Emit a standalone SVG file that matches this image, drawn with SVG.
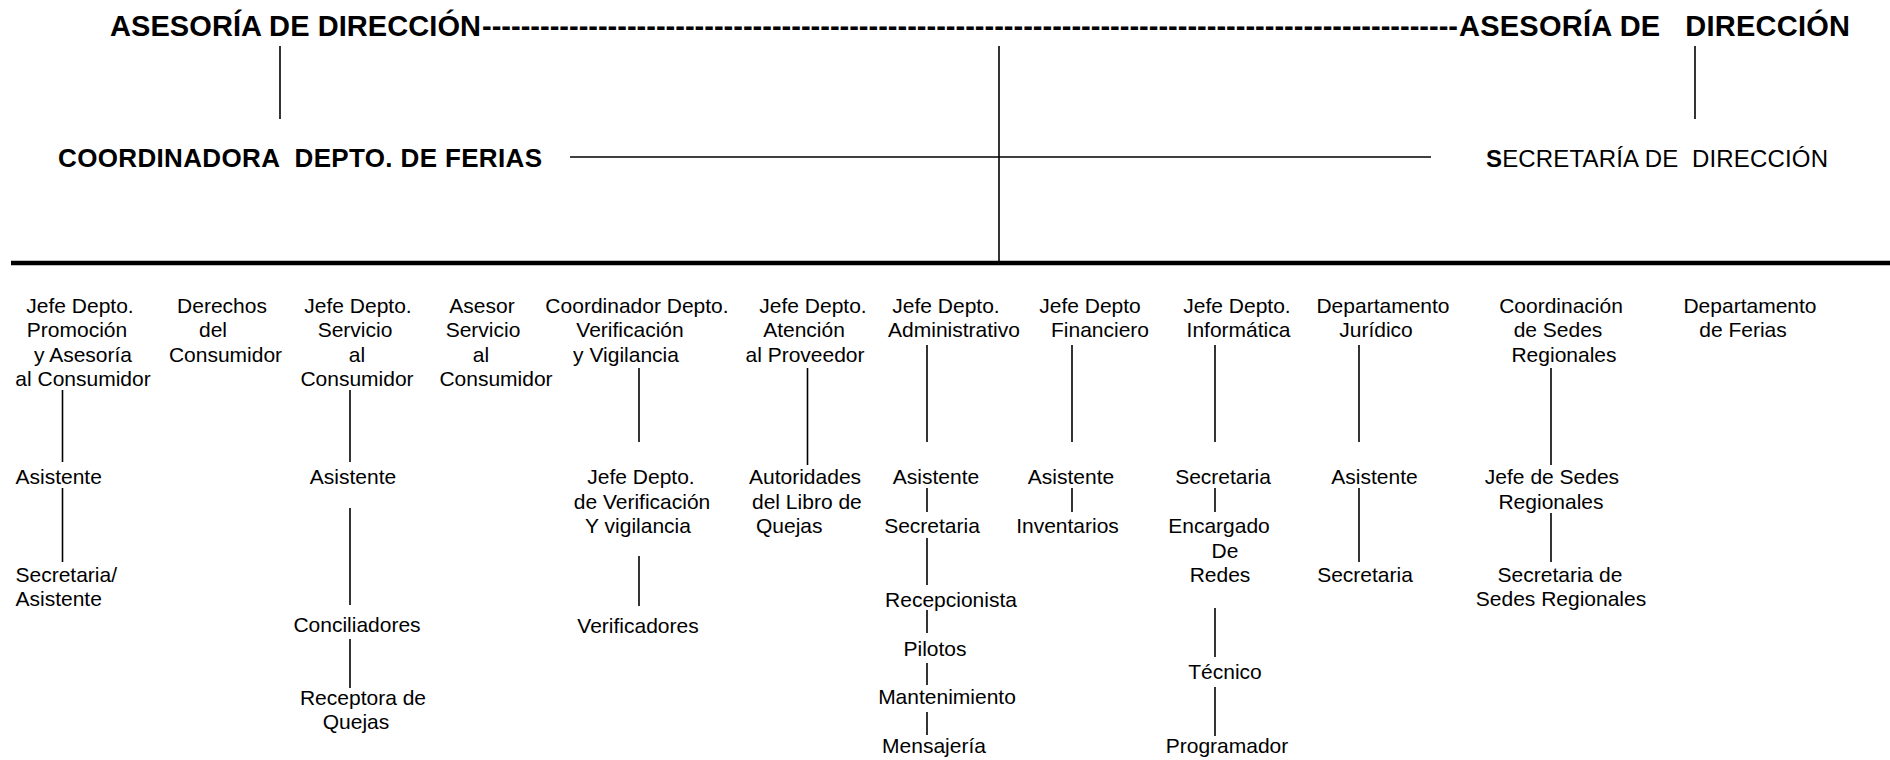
<svg xmlns="http://www.w3.org/2000/svg" width="1890" height="760" viewBox="0 0 1890 760">
<style>
text{font-family:"Liberation Sans",Arial,sans-serif;fill:#000}
.h{font-size:29px;font-weight:bold}
.c{font-size:26px;font-weight:bold}
.s{font-size:24px}
.t{font-size:21px;text-anchor:middle}
.l{font-size:21px}
.ln{stroke:#000;stroke-width:1.6;fill:none}
.thick{stroke:#000;stroke-width:4.5;fill:none}
</style>
<rect width="1890" height="760" fill="#fff"/>
<g id="asesoria-izq"><text class="h" x="110" y="36" textLength="371">ASESORÍA DE DIRECCIÓN</text></g>
<g id="asesoria-dashes"><text class="h" x="482" y="36" textLength="976" lengthAdjust="spacingAndGlyphs">-----------------------------------------------------------------------------------------------------</text></g>
<g id="asesoria-der"><text class="h" x="1459" y="36" xml:space="preserve" textLength="391">ASESORÍA DE   DIRECCIÓN</text></g>
<g id="coordinadora"><text class="c" x="58" y="167" xml:space="preserve" textLength="484">COORDINADORA  DEPTO. DE FERIAS</text></g>
<g id="secretaria-direccion"><text class="s" x="1486" y="167" xml:space="preserve" textLength="342"><tspan font-weight="bold">S</tspan>ECRETARÍA DE  DIRECCIÓN</text></g>

<g id="connectors">
<line class="ln" x1="280" y1="46" x2="280" y2="119"/>
<line class="ln" x1="1695" y1="46" x2="1695" y2="119"/>
<line class="ln" x1="999" y1="46" x2="999" y2="262"/>
<line class="ln" x1="570" y1="157" x2="1431" y2="157"/>
<line class="thick" x1="11" y1="263" x2="1890" y2="263"/>
<line class="ln" x1="62.5" y1="390" x2="62.5" y2="462"/>
<line class="ln" x1="62.5" y1="488" x2="62.5" y2="562"/>
<line class="ln" x1="350" y1="390" x2="350" y2="462"/>
<line class="ln" x1="350" y1="508" x2="350" y2="605"/>
<line class="ln" x1="350" y1="639" x2="350" y2="688"/>
<line class="ln" x1="639" y1="368" x2="639" y2="442"/>
<line class="ln" x1="639" y1="556" x2="639" y2="606"/>
<line class="ln" x1="807.5" y1="368" x2="807.5" y2="465"/>
<line class="ln" x1="927" y1="345" x2="927" y2="442"/>
<line class="ln" x1="927" y1="488" x2="927" y2="512"/>
<line class="ln" x1="927" y1="538" x2="927" y2="585"/>
<line class="ln" x1="927" y1="610" x2="927" y2="633"/>
<line class="ln" x1="927" y1="663" x2="927" y2="685"/>
<line class="ln" x1="927" y1="712" x2="927" y2="735"/>
<line class="ln" x1="1072" y1="345" x2="1072" y2="442"/>
<line class="ln" x1="1072" y1="488" x2="1072" y2="512"/>
<line class="ln" x1="1215" y1="345" x2="1215" y2="442"/>
<line class="ln" x1="1215" y1="488" x2="1215" y2="512"/>
<line class="ln" x1="1215" y1="608" x2="1215" y2="657"/>
<line class="ln" x1="1215" y1="687" x2="1215" y2="736"/>
<line class="ln" x1="1359" y1="345" x2="1359" y2="442"/>
<line class="ln" x1="1359" y1="488" x2="1359" y2="562"/>
<line class="ln" x1="1551" y1="368" x2="1551" y2="465"/>
<line class="ln" x1="1551" y1="513" x2="1551" y2="562"/>
</g>

<g id="jefe-promocion">
<text class="t" x="80" y="313">Jefe Depto.</text>
<text class="t" x="77" y="337">Promoción</text>
<text class="t" x="83" y="362">y Asesoría</text>
<text class="t" x="83" y="386">al Consumidor</text>
</g>
<g id="asistente-promocion"><text class="l" x="15.5" y="484">Asistente</text></g>
<g id="secretaria-asistente">
<text class="l" x="15.5" y="582">Secretaria/</text>
<text class="l" x="15.5" y="606">Asistente</text>
</g>

<g id="derechos-consumidor">
<text class="t" x="222" y="313">Derechos</text>
<text class="t" x="213" y="337">del</text>
<text class="t" x="225.5" y="362">Consumidor</text>
</g>

<g id="jefe-servicio">
<text class="t" x="358" y="313">Jefe Depto.</text>
<text class="t" x="355" y="337">Servicio</text>
<text class="t" x="357" y="362">al</text>
<text class="t" x="357" y="386">Consumidor</text>
</g>
<g id="asistente-servicio"><text class="t" x="353" y="484">Asistente</text></g>
<g id="conciliadores"><text class="t" x="357" y="632">Conciliadores</text></g>
<g id="receptora-quejas">
<text class="t" x="363" y="705">Receptora de</text>
<text class="t" x="356" y="729">Quejas</text>
</g>

<g id="asesor-servicio">
<text class="t" x="482" y="313">Asesor</text>
<text class="t" x="483" y="337">Servicio</text>
<text class="t" x="481" y="362">al</text>
<text class="t" x="496" y="386">Consumidor</text>
</g>

<g id="coordinador-verificacion">
<text class="t" x="637" y="313">Coordinador Depto.</text>
<text class="t" x="630" y="337">Verificación</text>
<text class="t" x="626" y="362">y Vigilancia</text>
</g>
<g id="jefe-verificacion">
<text class="t" x="641" y="484">Jefe Depto.</text>
<text class="t" x="642" y="509">de Verificación</text>
<text class="t" x="638" y="533">Y vigilancia</text>
</g>
<g id="verificadores"><text class="t" x="638" y="633">Verificadores</text></g>

<g id="jefe-atencion-proveedor">
<text class="t" x="813" y="313">Jefe Depto.</text>
<text class="t" x="804" y="337">Atención</text>
<text class="t" x="805" y="362">al Proveedor</text>
</g>
<g id="autoridades-libro">
<text class="l" x="749" y="484">Autoridades</text>
<text class="l" x="752" y="509">del Libro de</text>
<text class="l" x="756" y="533">Quejas</text>
</g>

<g id="jefe-administrativo">
<text class="t" x="946" y="313">Jefe Depto.</text>
<text class="t" x="954" y="337">Administrativo</text>
</g>
<g id="asistente-admin"><text class="t" x="936" y="484">Asistente</text></g>
<g id="secretaria-admin"><text class="t" x="932" y="533">Secretaria</text></g>
<g id="recepcionista"><text class="t" x="951" y="607">Recepcionista</text></g>
<g id="pilotos"><text class="t" x="935" y="656">Pilotos</text></g>
<g id="mantenimiento"><text class="t" x="947" y="704">Mantenimiento</text></g>
<g id="mensajeria"><text class="t" x="934" y="753">Mensajería</text></g>

<g id="jefe-financiero">
<text class="t" x="1090" y="313">Jefe Depto</text>
<text class="t" x="1100" y="337">Financiero</text>
</g>
<g id="asistente-financiero"><text class="t" x="1071" y="484">Asistente</text></g>
<g id="inventarios"><text class="t" x="1067.5" y="533">Inventarios</text></g>

<g id="jefe-informatica">
<text class="t" x="1237" y="313">Jefe Depto.</text>
<text class="t" x="1238.5" y="337">Informática</text>
</g>
<g id="secretaria-informatica"><text class="t" x="1223" y="484">Secretaria</text></g>
<g id="encargado-redes">
<text class="t" x="1219" y="533">Encargado</text>
<text class="t" x="1225" y="558">De</text>
<text class="t" x="1220" y="582">Redes</text>
</g>
<g id="tecnico"><text class="t" x="1225" y="679">Técnico</text></g>
<g id="programador"><text class="t" x="1227" y="753">Programador</text></g>

<g id="departamento-juridico">
<text class="t" x="1383" y="313">Departamento</text>
<text class="t" x="1376" y="337">Jurídico</text>
</g>
<g id="asistente-juridico"><text class="t" x="1374.5" y="484">Asistente</text></g>
<g id="secretaria-juridico"><text class="t" x="1365" y="582">Secretaria</text></g>

<g id="coordinacion-sedes">
<text class="t" x="1561" y="313">Coordinación</text>
<text class="t" x="1558" y="337">de Sedes</text>
<text class="t" x="1564" y="362">Regionales</text>
</g>
<g id="jefe-sedes">
<text class="t" x="1552" y="484">Jefe de Sedes</text>
<text class="t" x="1551" y="509">Regionales</text>
</g>
<g id="secretaria-sedes">
<text class="t" x="1560" y="582">Secretaria de</text>
<text class="t" x="1561" y="606">Sedes Regionales</text>
</g>

<g id="departamento-ferias">
<text class="t" x="1750" y="313">Departamento</text>
<text class="t" x="1743" y="337">de Ferias</text>
</g>
</svg>
